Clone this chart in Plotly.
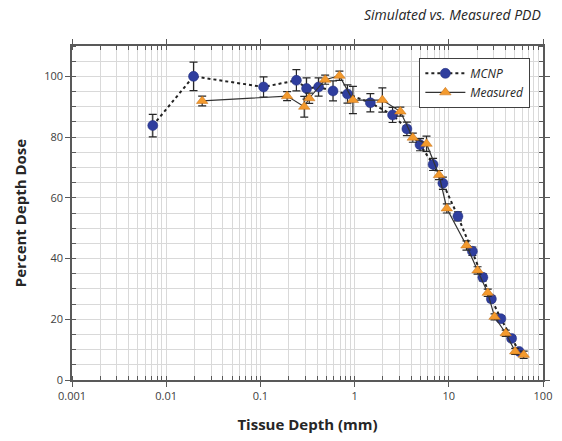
import plotly.graph_objects as go

# ---- data ----
mcnp_depth = [0.0072, 0.0195, 0.108, 0.241, 0.309, 0.415, 0.59, 0.84, 1.47, 2.53, 3.59,
              4.95, 6.81, 8.66, 12.5, 17.8, 23.0, 28.3, 35.7, 46.4, 55.8]
mcnp_pdd = [83.8, 100.0, 96.5, 98.7, 96.0, 96.5, 95.2, 94.2, 91.3, 87.3, 82.7,
            77.5, 71.0, 64.8, 53.9, 42.4, 33.8, 26.7, 20.2, 13.7, 9.4]
mcnp_err = [3.7, 4.7, 3.3, 3.5, 3.5, 3.0, 3.3, 3.0, 3.0, 2.5, 2.2,
            2.0, 2.0, 2.0, 1.5, 1.4, 1.2, 1.0, 0.9, 0.8, 0.6]

meas_depth = [0.0241, 0.192, 0.292, 0.33, 0.487, 0.69, 0.96, 1.97, 3.06, 4.15,
              5.8, 7.87, 9.53, 15.4, 20.2, 25.9, 30.6, 40.2, 50.7, 62.4]
meas_pdd = [91.9, 93.5, 90.0, 92.8, 98.9, 100.2, 92.2, 92.2, 88.4, 79.8,
            77.8, 67.5, 56.5, 44.3, 36.1, 28.7, 20.8, 15.4, 9.4, 8.3]
meas_err = [1.6, 1.5, 3.4, 1.7, 1.5, 1.5, 4.5, 4.0, 1.5, 1.5,
            2.5, 1.5, 1.5, 1.5, 1.2, 1.2, 1.0, 1.0, 1.0, 1.2]

x_tick_vals = [0.001, 0.01, 0.1, 1, 10, 100]
x_tick_text = ["0.001", "0.01", "0.1", "1", "10", "100"]

title_text = "Simulated vs. Measured PDD"
x_title = "Tissue Depth (mm)"
y_title = "Percent Depth Dose"

FONT = "Open Sans"
GRID = "#d9d9d9"
AXIS = "#595959"

fig = go.Figure()

fig.add_trace(go.Scatter(
    x=mcnp_depth, y=mcnp_pdd, name="MCNP", mode="lines+markers",
    line=dict(color="#222222", width=2, dash="dot"),
    marker=dict(symbol="circle", size=10, color="#2f3e9e",
                line=dict(color="#1f2a78", width=0.5)),
    error_y=dict(type="data", array=mcnp_err, visible=True,
                 color="#262626", thickness=1.2, width=4),
))

fig.add_trace(go.Scatter(
    x=meas_depth, y=meas_pdd, name="Measured", mode="lines+markers",
    line=dict(color="#333333", width=1.2),
    marker=dict(symbol="triangle-up", size=10, color="#f39a2e",
                line=dict(color="#c06a10", width=0.5)),
    error_y=dict(type="data", array=meas_err, visible=True,
                 color="#262626", thickness=1.2, width=4),
))

fig.update_layout(
    width=562, height=441,
    margin=dict(l=72, r=10, t=46, b=57),
    paper_bgcolor="white", plot_bgcolor="white",
    font=dict(family=FONT, size=11, color="#404040"),
    showlegend=True,
    legend=dict(
        x=0.7375, y=0.9645, xanchor="left", yanchor="top",
        bgcolor="white", bordercolor="#404040", borderwidth=1,
        font=dict(family=FONT, size=12, color="#262626", style="italic"),
        itemwidth=40, tracegroupgap=0,
    ),
    annotations=[
        dict(text=title_text, xref="paper", yref="paper",
             x=1.0, y=1.0, yshift=20, xanchor="right", yanchor="bottom",
             showarrow=False,
             font=dict(family=FONT, size=14, color="#262626", style="italic")),
    ],
)

fig.update_xaxes(
    type="log", range=[-3, 2],
    tickvals=x_tick_vals, ticktext=x_tick_text,
    ticks="outside", ticklen=5, tickcolor=AXIS,
    showline=True, linecolor=AXIS, linewidth=1.5, mirror="allticks",
    showgrid=True, gridcolor=GRID, gridwidth=1,
    minor=dict(dtick="D1", showgrid=True, gridcolor=GRID, gridwidth=0.8,
               ticks="inside", ticklen=4, tickcolor=AXIS),
    tickfont=dict(family=FONT, size=11, color="#404040"),
    title=dict(text=x_title, standoff=18,
               font=dict(family=FONT, size=15, color="#262626", weight="bold")),
    zeroline=False,
)

fig.update_yaxes(
    range=[0, 110], tick0=0, dtick=20,
    ticks="outside", ticklen=5, tickcolor=AXIS,
    showline=True, linecolor=AXIS, linewidth=1.5, mirror="allticks",
    showgrid=True, gridcolor=GRID, gridwidth=1,
    minor=dict(dtick=5, showgrid=True, gridcolor=GRID, gridwidth=0.8,
               ticks="inside", ticklen=4, tickcolor=AXIS),
    tickfont=dict(family=FONT, size=11, color="#404040"),
    title=dict(text=y_title, standoff=14,
               font=dict(family=FONT, size=15, color="#262626", weight="bold")),
    zeroline=False,
)

fig.write_html("out.html")
